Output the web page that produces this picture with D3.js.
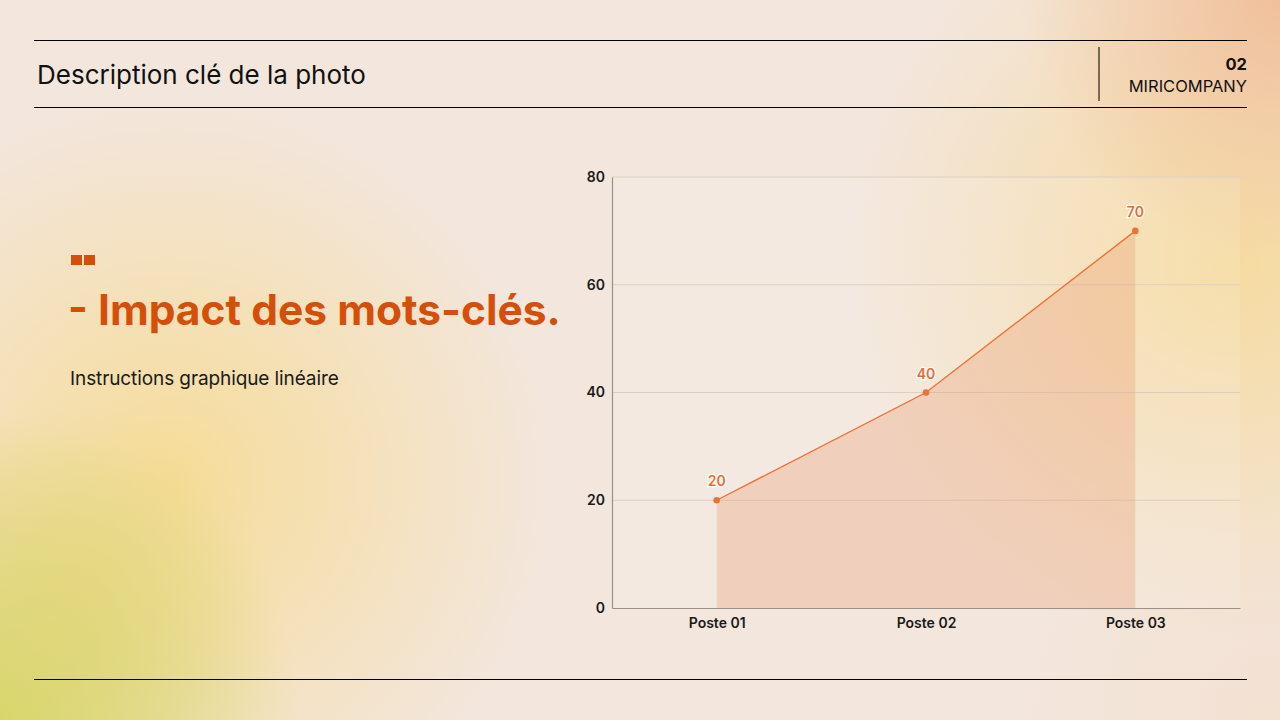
<!DOCTYPE html>
<html><head><meta charset="utf-8">
<script src="https://cdn.jsdelivr.net/npm/d3@7"></script>
<style>
html,body{margin:0;padding:0;width:1280px;height:720px;overflow:hidden;}
body{font-family:Inter,"Noto Sans",sans-serif;}
</style></head>
<body>
<svg id="c" width="1280" height="720"></svg>
<script>
const categories = ["Poste 01","Poste 02","Poste 03"];
const values = [20,40,70];
const yTicks = [0,20,40,60,80];
const headerTitle = "Description clé de la photo";
const pageNum = "02";
const company = "MIRICOMPANY";
const mainTitle = "- Impact des mots-clés.";
const subTitle = "Instructions graphique linéaire";

(function(){
const svg = d3.select("#c");
const defs = svg.append("defs");

// background
svg.append("rect").attr("width",1280).attr("height",720).attr("fill","#f3e6dc");
function blob(id,cx,cy,r,color,op){
  const g = defs.append("radialGradient").attr("id",id).attr("gradientUnits","userSpaceOnUse")
    .attr("cx",cx).attr("cy",cy).attr("r",r);
  g.append("stop").attr("offset","0%").attr("stop-color",color).attr("stop-opacity",op);
  g.append("stop").attr("offset","100%").attr("stop-color",color).attr("stop-opacity",0);
  svg.append("rect").attr("width",1280).attr("height",720).attr("fill",`url(#${id})`);
}
blob("b1",170,480,380,"#f6dc98",1);
blob("b2",1230,260,380,"#f6d894",0.85);
blob("b3",1280,0,260,"#f0bc96",0.9);
blob("b4",0,720,300,"#d2d660",0.95);
blob("b5",60,620,220,"#e0d474",0.6);
blob("b6",1280,720,260,"#f4dcc8",0.5);

// header
const lineC = "#000";
[40.5,107.5,679.5].forEach(yy=>{
  svg.append("line").attr("x1",34).attr("x2",1247).attr("y1",yy).attr("y2",yy)
    .attr("stroke",lineC).attr("stroke-width",1.1);
});
svg.append("line").attr("x1",1099).attr("x2",1099).attr("y1",47).attr("y2",101)
  .attr("stroke","#7b6a52").attr("stroke-width",2);
svg.append("text").attr("x",37).attr("y",84).attr("font-size",26).attr("fill","#111")
  .attr("font-family","Inter,sans-serif").text(headerTitle);
svg.append("text").attr("x",1247).attr("y",70).attr("text-anchor","end").attr("font-size",16.5)
  .attr("font-weight",700).attr("fill","#111").text(pageNum);
svg.append("text").attr("x",1247).attr("y",92).attr("text-anchor","end").attr("font-size",16.5)
  .attr("fill","#111").text(company);

// left title block
svg.append("rect").attr("x",71).attr("y",255).attr("width",11).attr("height",10).attr("fill","#d4500a");
svg.append("rect").attr("x",84).attr("y",255).attr("width",11).attr("height",10).attr("fill","#d4500a");
svg.append("text").attr("x",68).attr("y",325).attr("font-size",42.5).attr("font-weight",700)
  .attr("fill","#d4500a").text(mainTitle);
svg.append("text").attr("x",70).attr("y",385).attr("font-size",19).attr("fill","#1a1a1a")
  .attr("letter-spacing","-0.1").text(subTitle);

// chart
const pL=612, pR=1240, pT=177, pB=608;
const x = d3.scalePoint().domain(categories).range([pL,pR]).padding(0.5);
const y = d3.scaleLinear().domain([0,80]).range([pB,pT]);
const data = categories.map((c,i)=>({c,v:values[i]}));

svg.append("rect").attr("x",pL).attr("y",pT).attr("width",pR-pL).attr("height",pB-pT)
  .attr("fill","#ffffff").attr("opacity",0.12);

// grid
svg.append("g").selectAll("line").data(yTicks.filter(t=>t>0)).join("line")
  .attr("x1",pL).attr("x2",pR).attr("y1",d=>y(d)).attr("y2",d=>y(d))
  .attr("stroke","#dccfc2").attr("stroke-width",1);

// area
const area = d3.area().x(d=>x(d.c)).y0(y(0)).y1(d=>y(d.v));
svg.append("path").datum(data).attr("d",area).attr("fill","#e8956a").attr("opacity",0.3);
const line = d3.line().x(d=>x(d.c)).y(d=>y(d.v));
svg.append("path").datum(data).attr("d",line).attr("fill","none").attr("stroke","#e8743a").attr("stroke-width",1.4);
svg.append("g").selectAll("circle").data(data).join("circle")
  .attr("cx",d=>x(d.c)).attr("cy",d=>y(d.v)).attr("r",3.3).attr("fill","#e8743a");
svg.append("g").selectAll("text").data(data).join("text")
  .attr("x",d=>x(d.c)).attr("y",d=>y(d.v)-14).attr("text-anchor","middle")
  .attr("font-size",14).attr("font-weight",600).attr("fill","#e07038")
  .attr("stroke","#ffffff").attr("stroke-width",2.5).attr("paint-order","stroke")
  .attr("stroke-opacity",0.9).text(d=>d.v);

// axes
const yAxis = svg.append("g").attr("transform",`translate(${pL},0)`)
  .call(d3.axisLeft(y).tickValues(yTicks).tickSize(0).tickPadding(7));
yAxis.select(".domain").attr("stroke","#9a9088").attr("stroke-width",1.2);
yAxis.selectAll("text").attr("font-size",14).attr("font-weight",600).attr("fill","#1a1a1a")
  .attr("font-family","Inter,sans-serif");

const xAxis = svg.append("g").attr("transform",`translate(0,${pB})`)
  .call(d3.axisBottom(x).tickSize(0).tickPadding(10));
xAxis.select(".domain").attr("stroke","#9a9088").attr("stroke-width",1.2);
xAxis.selectAll("text").attr("font-size",14).attr("font-weight",600).attr("fill","#1a1a1a")
  .attr("font-family","Inter,sans-serif");
})();
</script>
</body></html>
